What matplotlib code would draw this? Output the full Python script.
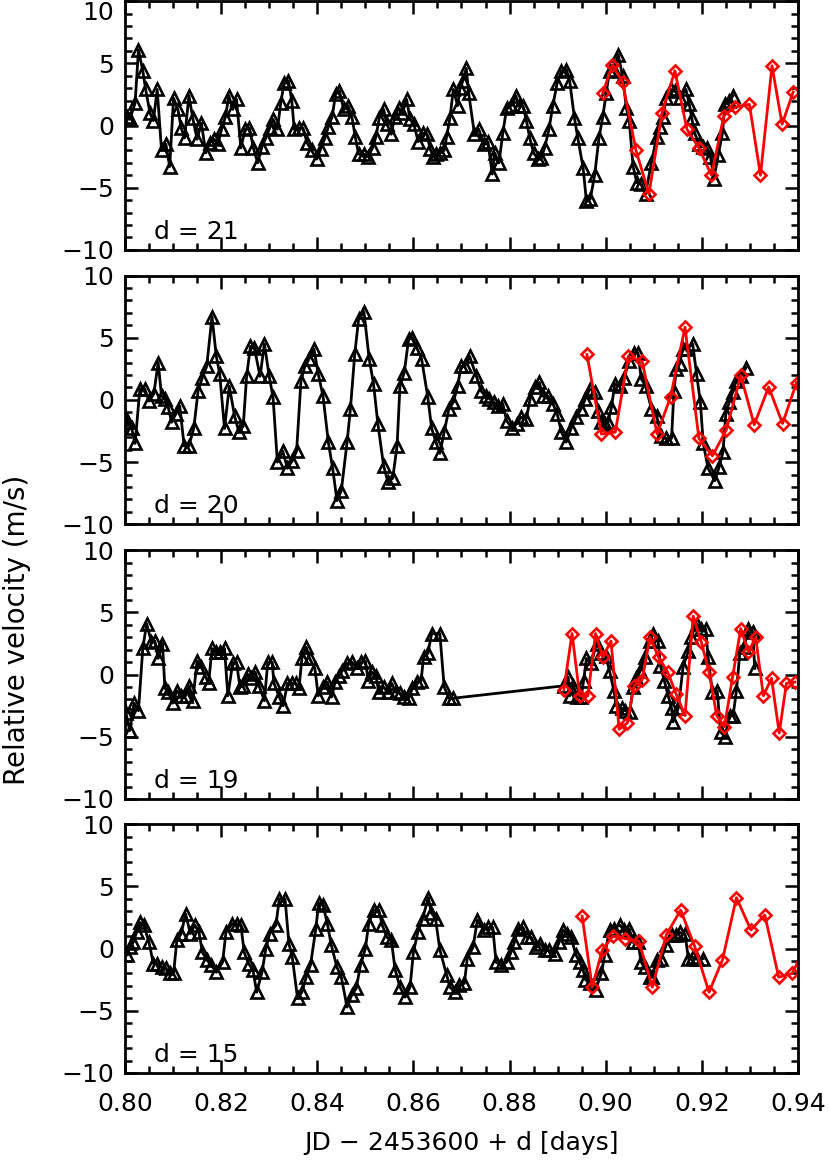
import matplotlib
matplotlib.use('Agg')
import matplotlib.pyplot as plt
from matplotlib.ticker import MultipleLocator, FormatStrFormatter

plt.rcParams['font.family'] = ['DejaVu Sans']

# ---- d = 21 ----
t21_k = [0.8005, 0.8010, 0.8021, 0.8028, 0.8037, 0.8043, 0.8052, 0.8059, 0.8067, 0.8076,
         0.8085, 0.8093, 0.8101, 0.8110, 0.8117, 0.8124, 0.8133, 0.8141, 0.8150, 0.8159,
         0.8168, 0.8176, 0.8185, 0.8193, 0.8201, 0.8209, 0.8216, 0.8224, 0.8232, 0.8241,
         0.8250, 0.8259, 0.8267, 0.8276, 0.8285, 0.8293, 0.8301, 0.8308, 0.8317, 0.8324,
         0.8331, 0.8340, 0.8347, 0.8352, 0.8362, 0.8370, 0.8379, 0.8388, 0.8399, 0.8407,
         0.8416, 0.8423, 0.8431, 0.8438, 0.8446, 0.8455, 0.8464, 0.8472, 0.8479, 0.8486,
         0.8497, 0.8506, 0.8515, 0.8522, 0.8529, 0.8538, 0.8545, 0.8554, 0.8561, 0.8569,
         0.8577, 0.8586, 0.8593, 0.8601, 0.8610, 0.8619, 0.8628, 0.8635, 0.8641, 0.8648,
         0.8655, 0.8664, 0.8669, 0.8676, 0.8683, 0.8692, 0.8697, 0.8703, 0.8710, 0.8715,
         0.8727, 0.8736, 0.8746, 0.8755, 0.8764, 0.8769, 0.8778, 0.8786, 0.8794, 0.8804,
         0.8813, 0.8819, 0.8828, 0.8835, 0.8842, 0.8850, 0.8859, 0.8866, 0.8873, 0.8882,
         0.8890, 0.8899, 0.8908, 0.8918, 0.8925, 0.8935, 0.8942, 0.8953, 0.8960, 0.8968,
         0.8977, 0.8986, 0.8994, 0.9001, 0.9008, 0.9017, 0.9026, 0.9035, 0.9043, 0.9049,
         0.9057, 0.9065, 0.9074, 0.9083, 0.9095, 0.9106, 0.9113, 0.9119, 0.9126, 0.9135,
         0.9144, 0.9154, 0.9167, 0.9174, 0.9179, 0.9185, 0.9194, 0.9203, 0.9211, 0.9218,
         0.9225, 0.9234, 0.9243, 0.9248, 0.9257, 0.9265]
v21_k = [0.7, 0.5, 1.8, 6.1, 4.4, 2.9, 1.0, 0.4, 2.9, -2.0,
         -1.5, -3.3, 2.2, 1.3, -0.2, -1.0, 2.4, 0.6, -1.1, 0.2,
         -2.2, -1.4, -1.1, -1.5, -0.3, 0.7, 2.4, 1.3, 2.1, -1.8,
         -0.3, -0.2, -1.8, -3.0, -1.7, -1.0, -0.2, 0.5, -0.3, 1.8,
         3.4, 3.6, 2.0, -0.3, -0.2, -0.2, -1.4, -2.0, -2.7, -1.9,
         -1.0, -0.1, 0.7, 2.5, 2.8, 1.3, 1.6, 0.7, -0.9, -2.3,
         -2.3, -2.5, -1.8, -0.9, 0.6, 1.3, 0.1, -0.7, 0.7, 1.4,
         1.0, 2.1, 0.5, 0.1, -1.3, -0.6, -0.7, -1.9, -2.5, -2.3,
         -2.2, -2.0, -0.9, 0.6, 2.9, 1.6, 3.0, 3.6, 4.6, 2.6,
         -0.7, -0.3, -1.5, -1.3, -3.9, -2.2, -3.0, -0.6, 1.4, 1.6,
         2.4, 1.6, 1.6, 0.4, -1.0, -2.2, -2.7, -2.6, -1.8, -0.3,
         1.6, 3.4, 4.4, 4.5, 3.6, 0.6, -1.0, -3.4, -6.1, -5.9,
         -4.0, -1.0, 0.7, 2.6, 4.4, 4.5, 5.7, 4.0, 1.4, 0.4,
         -3.3, -4.6, -4.7, -5.5, -3.0, -0.9, -0.1, 0.7, 2.2, 2.9,
         2.8, 2.2, 2.9, 1.7, 0.6, -0.6, -1.5, -1.7, -1.8, -2.5,
         -4.3, -2.4, -0.6, 1.7, 2.0, 2.4]
t21_r = [0.8994, 0.9014, 0.9035, 0.9063, 0.9090, 0.9117, 0.9144, 0.9169, 0.9194,
         0.9220, 0.9246, 0.9270, 0.9299, 0.9322, 0.9346, 0.9367, 0.9390]
v21_r = [2.6, 4.9, 3.5, -2.0, -5.5, 1.0, 4.4, -0.3, -1.8,
         -4.0, 0.8, 1.5, 1.7, -4.0, 4.8, 0.1, 2.7]

# ---- d = 20 ----
t20_k = [0.8000, 0.8007, 0.8014, 0.8021, 0.8031, 0.8041, 0.8050, 0.8060, 0.8069, 0.8076,
         0.8083, 0.8090, 0.8097, 0.8106, 0.8114, 0.8123, 0.8133, 0.8143, 0.8152, 0.8161,
         0.8170, 0.8181, 0.8190, 0.8197, 0.8207, 0.8217, 0.8228, 0.8237, 0.8246, 0.8253,
         0.8261, 0.8269, 0.8281, 0.8290, 0.8300, 0.8308, 0.8317, 0.8328, 0.8338, 0.8348,
         0.8357, 0.8366, 0.8374, 0.8383, 0.8393, 0.8402, 0.8412, 0.8423, 0.8432, 0.8441,
         0.8450, 0.8462, 0.8469, 0.8478, 0.8486, 0.8497, 0.8508, 0.8517, 0.8526, 0.8538,
         0.8547, 0.8557, 0.8566, 0.8572, 0.8581, 0.8590, 0.8598, 0.8607, 0.8617, 0.8630,
         0.8638, 0.8647, 0.8655, 0.8664, 0.8674, 0.8683, 0.8692, 0.8699, 0.8707, 0.8717,
         0.8731, 0.8741, 0.8750, 0.8758, 0.8767, 0.8776, 0.8786, 0.8794, 0.8806, 0.8815,
         0.8824, 0.8835, 0.8843, 0.8852, 0.8862, 0.8869, 0.8880, 0.8890, 0.8899, 0.8908,
         0.8918, 0.8928, 0.8939, 0.8949, 0.8958, 0.8967, 0.8977, 0.8984, 0.8991, 0.8998,
         0.9005, 0.9012, 0.9019, 0.9029, 0.9038, 0.9049, 0.9058, 0.9067, 0.9074, 0.9083,
         0.9095, 0.9106, 0.9116, 0.9126, 0.9137, 0.9142, 0.9147, 0.9154, 0.9160, 0.9168,
         0.9181, 0.9189, 0.9197, 0.9203, 0.9213, 0.9227, 0.9236, 0.9244, 0.9250, 0.9257,
         0.9264, 0.9271, 0.9281, 0.9292]
v20_k = [-1.4, -1.8, -2.3, -3.5, 0.9, 0.9, -0.1, 0.5, 3.0, 0.3,
         0.1, -0.6, -1.8, -1.1, -0.5, -3.7, -3.7, -2.3, 0.7, 1.8,
         2.7, 6.7, 3.5, 2.1, -2.3, 1.1, -1.3, -2.6, -2.1, 1.9,
         4.3, 4.2, 1.9, 4.5, 1.9, 0.2, -5.0, -4.1, -5.5, -4.9,
         -4.1, 1.5, 2.7, 3.3, 4.1, 2.1, 0.3, -3.4, -5.5, -8.1,
         -7.3, -3.4, -0.7, 3.7, 6.5, 7.1, 3.3, 1.3, -1.9, -5.3,
         -6.6, -6.3, -3.7, 1.1, 2.2, 4.9, 5.0, 4.2, 3.3, 0.2,
         -2.3, -3.4, -4.3, -2.6, -0.7, -0.2, 1.1, 2.7, 2.7, 3.5,
         1.9, 0.7, 0.3, 0.1, -0.2, -0.5, -0.3, -1.7, -2.3, -1.9,
         -1.4, -1.5, 0.1, 1.0, 1.4, 0.3, 0.3, -0.3, -1.1, -2.6,
         -3.4, -2.3, -1.4, -0.7, 0.1, 0.9, 0.6, -0.9, -1.8, -1.9,
         -1.8, -0.6, 1.3, 1.1, 1.8, 3.1, 3.8, 3.8, 1.7, 1.1,
         -0.7, -1.3, -2.9, -3.1, -3.1, 0.7, 2.5, 2.9, 4.1, 4.1,
         4.5, 2.1, -0.2, -3.5, -5.5, -6.5, -5.4, -4.2, -1.1, -0.2,
         0.6, 1.5, 1.9, 2.6]
t20_r = [0.8961, 0.8991, 0.9020, 0.9047, 0.9076, 0.9107, 0.9135, 0.9165,
         0.9194, 0.9222, 0.9251, 0.9281, 0.9309, 0.9339, 0.9368, 0.9397]
v20_r = [3.65, -2.75, -2.6, 3.5, 3.1, -2.75, 0.25, 5.85,
         -3.1, -4.5, -2.4, 1.97, -2.0, 1.04, -1.9, 1.39]

# ---- d = 19 ----
t19_k = [0.8002, 0.8010, 0.8019, 0.8028, 0.8037, 0.8045, 0.8055, 0.8062, 0.8069, 0.8078,
         0.8083, 0.8090, 0.8099, 0.8108, 0.8117, 0.8126, 0.8134, 0.8141, 0.8150, 0.8159,
         0.8168, 0.8174, 0.8181, 0.8190, 0.8197, 0.8207, 0.8214, 0.8224, 0.8232, 0.8239,
         0.8246, 0.8255, 0.8262, 0.8271, 0.8279, 0.8290, 0.8297, 0.8306, 0.8310, 0.8321,
         0.8329, 0.8338, 0.8347, 0.8355, 0.8362, 0.8368, 0.8377, 0.8384, 0.8395, 0.8402,
         0.8412, 0.8421, 0.8430, 0.8437, 0.8445, 0.8452, 0.8462, 0.8472, 0.8483, 0.8492,
         0.8500, 0.8506, 0.8514, 0.8522, 0.8528, 0.8538, 0.8547, 0.8555, 0.8563, 0.8572,
         0.8581, 0.8590, 0.8598, 0.8607, 0.8616, 0.8621, 0.8630, 0.8638, 0.8655, 0.8664,
         0.8674, 0.8683,
         0.8913, 0.8922, 0.8925, 0.8933, 0.8940, 0.8949, 0.8954, 0.8960, 0.8970, 0.8981,
         0.8991, 0.9000, 0.9008, 0.9017, 0.9022, 0.9033, 0.9040, 0.9050, 0.9057, 0.9064,
         0.9072, 0.9081, 0.9092, 0.9099, 0.9109, 0.9114, 0.9122, 0.9130, 0.9137, 0.9140,
         0.9151, 0.9161, 0.9172, 0.9178, 0.9189, 0.9199, 0.9208, 0.9213, 0.9222, 0.9232,
         0.9239, 0.9248, 0.9258, 0.9265, 0.9272, 0.9279, 0.9288, 0.9297, 0.9306, 0.9310]
v19_k = [-3.1, -4.5, -2.3, -2.9, 2.1, 4.1, 2.6, 2.7, 1.3, 2.5,
         -1.1, -1.4, -2.3, -1.3, -1.7, -1.7, -0.9, -2.1, 1.1, 0.6,
         -0.2, -0.7, 2.1, 1.8, 1.8, 2.1, -1.7, 0.9, 1.0, -1.0,
         -0.9, 0.05, -0.3, 0.2, -0.9, -2.1, 1.0, 1.0, -0.7, -1.8,
         -2.5, -0.7, -0.7, -0.7, -1.1, 1.3, 2.2, 1.3, 0.5, -1.7,
         -1.0, -0.6, -1.8, -0.6, -0.1, 0.3, 0.9, 1.0, 0.5, 1.0,
         1.1, -0.5, 0.2, -0.1, -1.4, -1.0, -1.4, -0.7, -1.4, -1.5,
         -1.8, -1.9, -1.1, -0.6, -0.5, 1.4, 1.7, 3.3, 3.3, -1.0,
         -1.9, -1.9,
         -0.9, -0.2, -1.7, -0.9, -1.8, -1.8, -0.5, 1.3, 0.9, 2.5,
         1.7, 1.5, 0.3, -1.3, -2.5, -2.7, -2.9, -3.0, -1.0, -0.3,
         0.3, 1.4, 2.7, 3.3, 2.7, 0.7, -0.5, -1.7, -2.7, -3.8,
         -2.7, 0.6, 1.9, 3.0, 4.1, 3.7, 3.7, 1.4, -1.4, -1.3,
         -4.6, -5.0, -3.3, -3.3, -1.3, 1.7, 2.2, 3.7, 3.4, 0.5]
t19_r = [0.8913, 0.8930, 0.8946, 0.8963, 0.8979, 0.8994, 0.9011, 0.9028, 0.9045, 0.9059,
         0.9076, 0.9092, 0.9110, 0.9129, 0.9147, 0.9165, 0.9182, 0.9199, 0.9215, 0.9231,
         0.9247, 0.9264, 0.9281, 0.9297, 0.9312, 0.9328, 0.9345, 0.9361, 0.9376, 0.9394]
v19_r = [-1.2, 3.3, -1.7, -1.7, 3.3, 1.4, 2.7, -4.4, -3.9, -0.9,
         -0.4, 3.0, 1.4, 0.2, -1.6, -3.3, 4.7, 2.6, 0.2, -3.3,
         -4.2, -0.2, 3.7, 1.8, 3.0, -1.7, -0.3, -4.7, -0.7, -0.6]

# ---- d = 15 ----
t15_k = [0.8005, 0.8010, 0.8017, 0.8024, 0.8031, 0.8039, 0.8050, 0.8059, 0.8067, 0.8076,
         0.8085, 0.8093, 0.8101, 0.8108, 0.8117, 0.8126, 0.8136, 0.8145, 0.8154, 0.8161,
         0.8170, 0.8179, 0.8190, 0.8203, 0.8210, 0.8223, 0.8234, 0.8241, 0.8248, 0.8257,
         0.8266, 0.8274, 0.8285, 0.8293, 0.8301, 0.8314, 0.8321, 0.8333, 0.8341, 0.8348,
         0.8359, 0.8368, 0.8377, 0.8386, 0.8397, 0.8403, 0.8412, 0.8421, 0.8429, 0.8441,
         0.8450, 0.8462, 0.8472, 0.8481, 0.8490, 0.8500, 0.8507, 0.8517, 0.8528, 0.8535,
         0.8545, 0.8554, 0.8562, 0.8572, 0.8583, 0.8593, 0.8600, 0.8609, 0.8619, 0.8631,
         0.8637, 0.8646, 0.8655, 0.8669, 0.8676, 0.8686, 0.8695, 0.8706, 0.8712, 0.8724,
         0.8733,
         0.8746, 0.8755, 0.8765, 0.8772, 0.8783, 0.8794, 0.8803, 0.8810, 0.8817, 0.8828,
         0.8836, 0.8845, 0.8856, 0.8864, 0.8873, 0.8882, 0.8894, 0.8903, 0.8911, 0.8919,
         0.8928, 0.8938, 0.8946, 0.8953, 0.8958, 0.8967, 0.8979, 0.8991, 0.8998, 0.9008,
         0.9017, 0.9029, 0.9038, 0.9049, 0.9057, 0.9067, 0.9074, 0.9081, 0.9092, 0.9097,
         0.9106, 0.9116, 0.9126, 0.9137, 0.9146, 0.9154, 0.9165, 0.9172, 0.9181, 0.9189,
         0.9203]
v15_k = [-0.5, 0.1, 0.5, 1.3, 2.1, 1.9, 0.5, -1.2, -1.2, -1.5,
         -1.6, -2.0, -2.0, 0.7, 1.2, 2.8, 1.2, 1.9, 1.3, -0.3,
         -0.9, -1.3, -1.9, -1.1, 1.3, 2.0, 2.0, 1.9, -0.3, -1.2,
         -1.7, -3.5, -1.9, 0.0, 1.2, 1.9, 4.0, 4.0, 0.4, -0.7,
         -4.0, -3.5, -2.3, -1.3, 1.6, 3.7, 3.5, 2.0, 0.3, -1.5,
         -2.3, -4.7, -3.7, -3.2, -1.3, 0.0, 2.0, 3.1, 3.1, 1.9,
         0.9, 0.7, -1.7, -3.1, -3.9, -3.1, -0.3, 1.3, 2.4, 4.1,
         2.9, 2.4, -0.1, -2.1, -3.1, -3.5, -2.9, -2.8, -0.8, 0.1,
         2.3,
         1.5, 1.7, 1.7, -1.1, -1.3, -1.1, -0.3, 0.5, 1.6, 1.7,
         0.9, 0.9, 0.1, 0.4, -0.1, -0.1, -0.4, 0.5, 1.5, 1.2,
         0.9, -0.5, -1.1, -1.7, -2.5, -2.8, -3.3, -2.0, -0.5, 1.5,
         1.6, 1.9, 1.5, 1.6, 0.5, 0.5, -1.1, -1.5, -2.3, -2.3,
         -0.9, -0.8, 0.3, 1.1, 1.1, 1.3, 1.2, -0.8, -0.7, -0.8,
         -0.8]
t15_r = [0.8951, 0.8972, 0.8993, 0.9015, 0.9041, 0.9069, 0.9097, 0.9126, 0.9156,
         0.9185, 0.9215, 0.9243, 0.9272, 0.9302, 0.9331, 0.9360, 0.9388, 0.9425]
v15_r = [2.6, -3.1, -0.1, 1.0, 0.8, 0.6, -3.1, 1.1, 3.1,
         0.2, -3.5, -0.9, 4.1, 1.5, 2.7, -2.3, -2.0, 0.9]

panels = [('d = 21', t21_k, v21_k, t21_r, v21_r),
          ('d = 20', t20_k, v20_k, t20_r, v20_r),
          ('d = 19', t19_k, v19_k, t19_r, v19_r),
          ('d = 15', t15_k, v15_k, t15_r, v15_r)]
bottoms = [0.7855, 0.5500, 0.3142, 0.0790]

fig = plt.figure(figsize=(8.3, 11.65), dpi=100)

for i, (lab, tk, vk, tr, vr) in enumerate(panels):
    ax = fig.add_axes([0.1506, bottoms[i], 0.8108, 0.2135])
    ax.plot(tk, vk, '-', color='black', lw=2.0, marker='^', ms=9,
            mfc='none', mec='black', mew=1.9)
    ax.plot(tr, vr, '-', color='red', lw=2.0, marker='D', ms=6.5,
            mfc='none', mec='red', mew=1.9)
    ax.set_xlim(0.80, 0.94)
    ax.set_ylim(-10, 10)
    ax.xaxis.set_major_locator(MultipleLocator(0.02))
    ax.xaxis.set_minor_locator(MultipleLocator(0.005))
    ax.set_yticks([-10, -5, 0, 5, 10])
    ax.yaxis.set_minor_locator(MultipleLocator(1))
    ax.xaxis.set_major_formatter(FormatStrFormatter('%.2f'))
    ax.tick_params(which='both', direction='in', top=True, right=True,
                   width=1.8, labelsize=18)
    ax.tick_params(which='major', length=9.5)
    ax.tick_params(which='minor', length=5)
    ax.tick_params(axis='y', pad=8)
    ax.tick_params(axis='x', pad=14)
    for s in ax.spines.values():
        s.set_linewidth(2.0)
    if i < 3:
        ax.tick_params(axis='x', labelbottom=False)
    if i == 0:
        ax.get_yticklabels()[-1].set_verticalalignment('top')
    ax.text(0.806, -9.1, lab, fontsize=18, va='baseline', ha='left')

fig.text(0.556, 0.019, 'JD \u2212 2453600 + d [days]', fontsize=18,
         ha='center', va='center')
fig.text(0.021, 0.459, 'Relative velocity (m/s)', fontsize=20,
         rotation=90, ha='center', va='center')

fig.savefig('out.png', dpi=100)
